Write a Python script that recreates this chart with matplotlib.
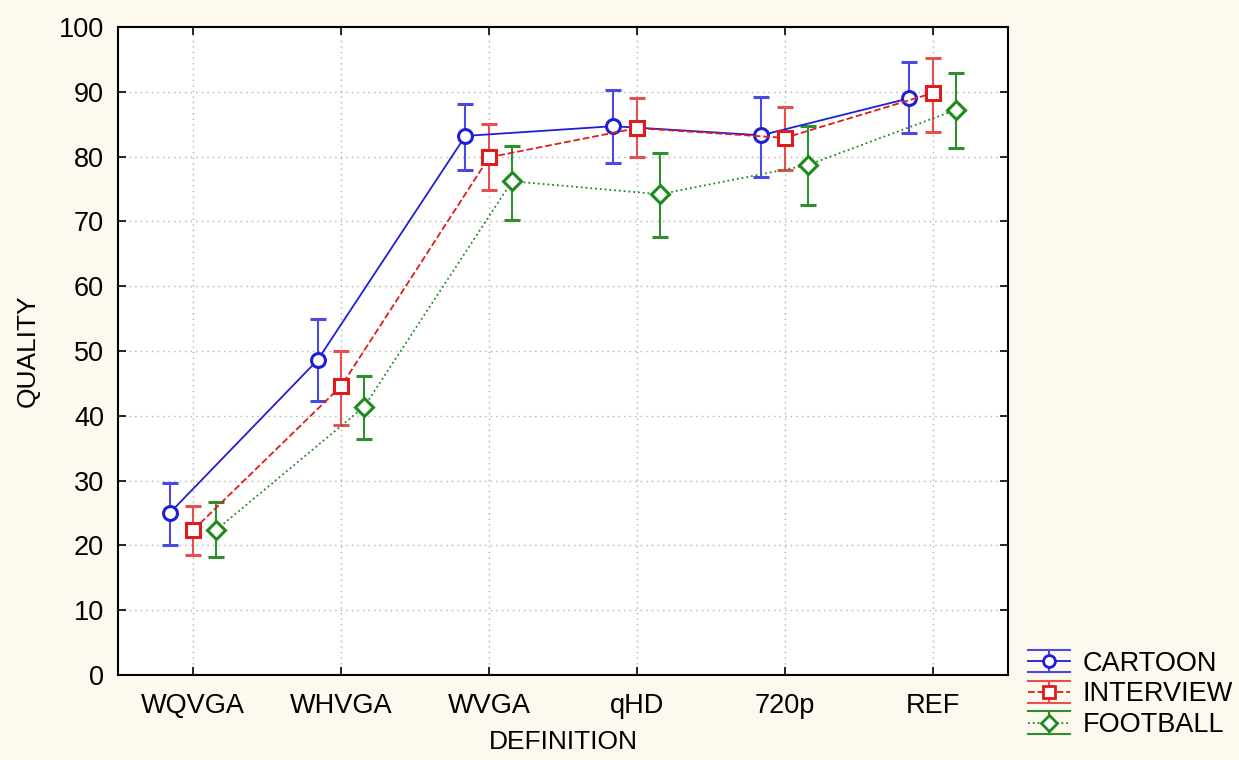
import numpy as np
import matplotlib
matplotlib.use("Agg")
import matplotlib.pyplot as plt
from matplotlib.lines import Line2D
from matplotlib.legend_handler import HandlerBase

plt.rcParams['font.family'] = ['Liberation Sans', 'DejaVu Sans']

categorias = ['WQVGA', 'WHVGA', 'WVGA', 'qHD', '720p', 'REF']

# Medias y extremos de los intervalos
cartoon = [25.0, 48.6, 83.2, 84.7, 83.3, 89.0]
cartoon_lo = [20.1, 42.3, 77.9, 79.0, 76.9, 83.6]
cartoon_hi = [29.6, 54.9, 88.1, 90.3, 89.2, 94.6]

interview = [22.4, 44.6, 79.9, 84.4, 82.9, 89.8]
interview_lo = [18.5, 38.6, 74.8, 79.9, 77.9, 83.8]
interview_hi = [26.1, 50.0, 85.0, 89.0, 87.7, 95.2]

football = [22.4, 41.4, 76.2, 74.2, 78.7, 87.2]
football_lo = [18.2, 36.4, 70.2, 67.6, 72.5, 81.3]
football_hi = [26.7, 46.1, 81.6, 80.6, 84.7, 92.9]

series = [
    ('CARTOON', cartoon, cartoon_lo, cartoon_hi, '#1f1fd6', '#4a4ae0', 'o', '-', -0.16),
    ('INTERVIEW', interview, interview_lo, interview_hi, '#e01b1b', '#e85050', 's', '--', 0.0),
    ('FOOTBALL', football, football_lo, football_hi, '#1e8a1e', '#2e8f2e', 'D', ':', 0.155),
]


class HandlerBarras(HandlerBase):
    # Simbolo de leyenda: linea con marcador y tapas horizontales arriba y abajo
    def __init__(self, info):
        super().__init__()
        self.info = info

    def create_artists(self, legend, orig_handle, xdescent, ydescent,
                       width, height, fontsize, trans):
        color, color_err, marca, estilo, tam = self.info[orig_handle.get_label()]
        x0, x1 = -xdescent, -xdescent + width
        xm = (x0 + x1) / 2
        ym = -ydescent + height / 2
        d = height * 0.5
        arts = [
            Line2D([x0, x1], [ym + d, ym + d], color=color_err, lw=1.5),
            Line2D([x0, x1], [ym - d, ym - d], color=color_err, lw=1.5),
            Line2D([xm, xm], [ym - d, ym + d], color=color_err, lw=1.5),
            Line2D([x0, x1], [ym, ym], color=color, lw=1.3, linestyle=estilo),
            Line2D([xm], [ym], marker=marca, markersize=tam, color=color,
                   markerfacecolor='white', markeredgewidth=2, linestyle='none'),
        ]
        for a in arts:
            a.set_transform(trans)
        return arts


fig = plt.figure(figsize=(12.39, 7.6), dpi=100, facecolor='#fdf9ee')
ax = fig.add_axes([0.0952, 0.1118, 0.7184, 0.8526])
ax.set_facecolor('white')

x = np.arange(len(categorias))
info = {}
manejadores = []
for nombre, media, lo, hi, color, color_err, marca, estilo, desp in series:
    media = np.array(media)
    err = [media - np.array(lo), np.array(hi) - media]
    tam = 10 if marca != 'D' else 9
    ax.errorbar(x + desp, media, yerr=err, color=color, ecolor=color_err,
                linestyle=estilo, linewidth=1.3, elinewidth=1.5,
                capsize=6, capthick=1.5,
                marker=marca, markersize=tam,
                markerfacecolor='white', markeredgecolor=color,
                markeredgewidth=2.2)
    info[nombre] = (color, color_err, marca, estilo, tam * 0.85)
    manejadores.append(Line2D([], [], label=nombre))

ax.set_xlim(-0.51, 5.51)
ax.set_ylim(0, 100)
ax.set_yticks(np.arange(0, 101, 10))
ax.set_xticks(x)
ax.set_xticklabels(categorias)
ax.tick_params(direction='in', top=True, right=True, labelsize=19.5, length=6, width=1.2)
ax.tick_params(axis='x', pad=13)
ax.tick_params(axis='y', pad=10)
ax.grid(True, linestyle=(0, (1, 3)), color='#b0b0b0', linewidth=1)
for s in ax.spines.values():
    s.set_linewidth(1.5)
ax.set_xlabel('DEFINITION', fontsize=19, labelpad=8)
ax.set_ylabel('QUALITY', fontsize=19, labelpad=14)

ax.legend(handles=manejadores, handler_map={m: HandlerBarras(info) for m in manejadores},
          loc='lower left', bbox_to_anchor=(1.022, -0.097), frameon=False,
          fontsize=19.5, handlelength=1.55, handleheight=0.9, labelspacing=0.15,
          handletextpad=0.48, borderaxespad=0, borderpad=0)

fig.savefig('out.png', dpi=100, facecolor=fig.get_facecolor())
